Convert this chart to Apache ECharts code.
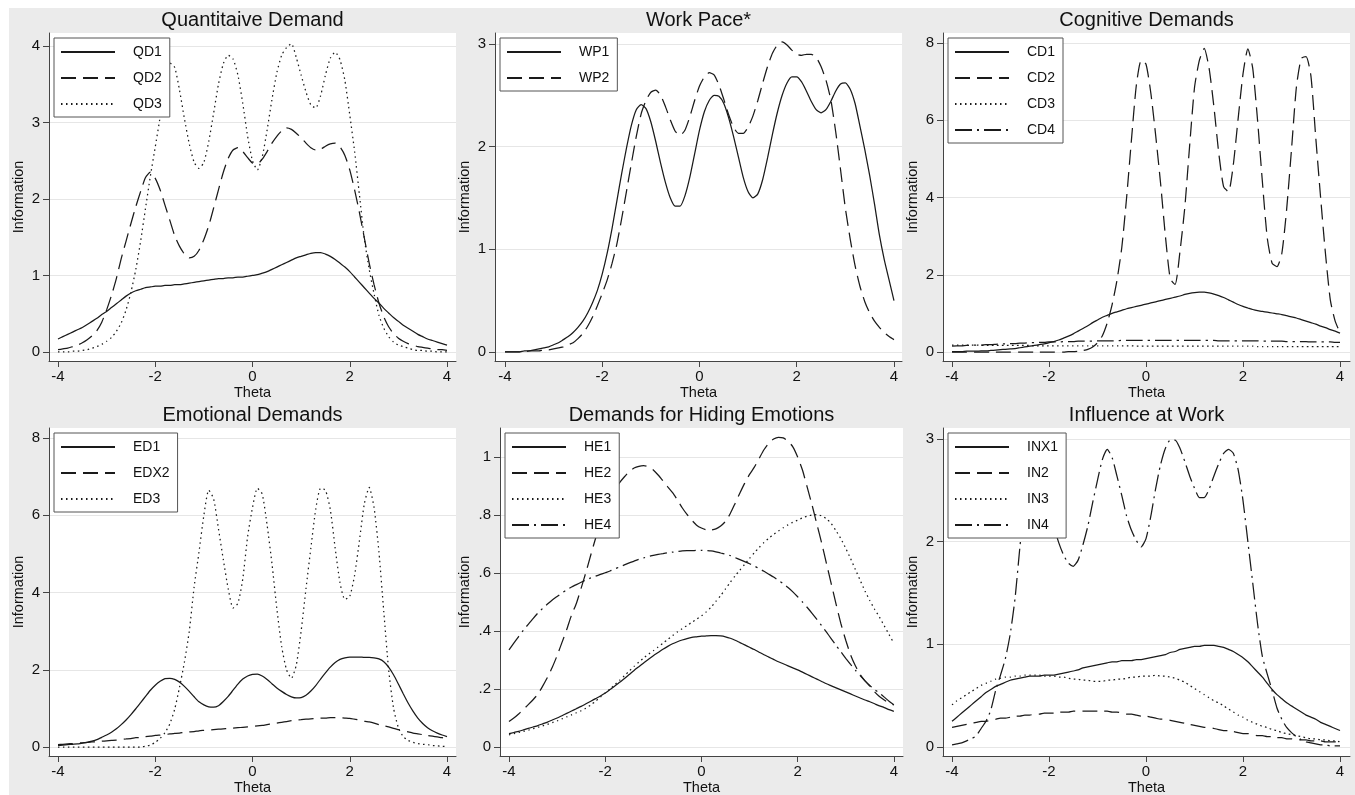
<!DOCTYPE html>
<html>
<head>
<meta charset="utf-8">
<title>Item information functions</title>
<script src="https://cdn.jsdelivr.net/npm/echarts@6/dist/echarts.min.js"></script>
<style>
  html, body { margin: 0; padding: 0; background: #fff; }
  #chart { width: 1355px; height: 795px; }
</style>
</head>
<body>
<div id="chart"></div>
<script>
// theta grid, -4 .. 4 by 0.1
const THETA = [];
for (let i = -40; i <= 40; i++) THETA.push(i / 10);

const X_TICKS = [-4, -2, 0, 2, 4];

// Quantitaive Demand
const QD1 = [
  .17, .20, .23, .26, .29, .32, .36, .40, .44, .49,
  .53, .58, .63, .68, .73, .77, .80, .82, .84, .85,
  .86, .86, .87, .87, .88, .88, .89, .90, .91, .92,
  .93, .94, .95, .96, .96, .97, .97, .98, .98, .99,
  1.00, 1.01, 1.03, 1.05, 1.08, 1.11, 1.14, 1.17, 1.20, 1.23,
  1.25, 1.27, 1.29, 1.30, 1.30, 1.28, 1.25, 1.21, 1.16, 1.11,
  1.05, .98, .91, .84, .77, .70, .64, .57, .51, .45,
  .40, .35, .31, .27, .23, .20, .17, .15, .13, .11,
  .09
];
const QD2 = [
  .03, .04, .05, .07, .09, .12, .16, .21, .28, .39,
  .55, .74, .96, 1.22, 1.45, 1.68, 1.90, 2.10, 2.28, 2.35,
  2.27, 2.12, 1.92, 1.72, 1.52, 1.38, 1.28, 1.23, 1.25, 1.33,
  1.47, 1.65, 1.88, 2.12, 2.35, 2.53, 2.64, 2.67, 2.62, 2.54,
  2.47, 2.46, 2.52, 2.62, 2.73, 2.82, 2.89, 2.93, 2.91, 2.86,
  2.80, 2.73, 2.67, 2.64, 2.65, 2.69, 2.72, 2.73, 2.68, 2.57,
  2.38, 2.12, 1.82, 1.49, 1.16, .88, .64, .46, .33, .24,
  .18, .14, .11, .09, .07, .06, .05, .04, .03, .03,
  .02
];
const QD3 = [
  .00, .00, .00, .01, .01, .02, .03, .05, .07, .10,
  .14, .19, .27, .38, .55, .78, 1.08, 1.45, 1.88, 2.30,
  2.68, 3.07, 3.50, 3.78, 3.72, 3.42, 3.05, 2.72, 2.48, 2.40,
  2.48, 2.75, 3.12, 3.50, 3.77, 3.88, 3.83, 3.62, 3.25, 2.82,
  2.50, 2.38, 2.55, 2.90, 3.30, 3.65, 3.88, 3.98, 4.03, 3.85,
  3.62, 3.40, 3.23, 3.19, 3.35, 3.62, 3.84, 3.92, 3.82, 3.55,
  3.10, 2.62, 2.05, 1.48, 1.08, .76, .48, .31, .20, .13,
  .09, .07, .05, .03, .02, .02, .01, .01, .00, .00,
  .00
];

// Work Pace*
const WP1 = [
  .00, .00, .00, .00, .01, .01, .02, .03, .04, .05,
  .07, .09, .12, .15, .19, .24, .30, .38, .48, .60,
  .76, .96, 1.20, 1.47, 1.74, 1.99, 2.21, 2.36, 2.41, 2.37,
  2.24, 2.05, 1.84, 1.65, 1.50, 1.42, 1.42, 1.52, 1.70, 1.93,
  2.16, 2.34, 2.45, 2.50, 2.49, 2.42, 2.28, 2.10, 1.90, 1.70,
  1.56, 1.50, 1.54, 1.68, 1.89, 2.12, 2.33, 2.50, 2.62, 2.68,
  2.68, 2.63, 2.54, 2.44, 2.36, 2.33, 2.36, 2.44, 2.54, 2.61,
  2.62, 2.56, 2.42, 2.20, 1.97, 1.72, 1.44, 1.14, .90, .70,
  .50
];
const WP2 = [
  .00, .00, .00, .00, .00, .01, .01, .01, .02, .02,
  .03, .04, .05, .07, .09, .13, .18, .25, .34, .45,
  .57, .70, .86, 1.05, 1.30, 1.57, 1.84, 2.10, 2.32, 2.45,
  2.53, 2.55, 2.50, 2.39, 2.26, 2.15, 2.11, 2.16, 2.29, 2.45,
  2.59, 2.68, 2.72, 2.70, 2.60, 2.46, 2.31, 2.19, 2.13, 2.13,
  2.19, 2.30, 2.45, 2.62, 2.78, 2.91, 2.99, 3.02, 2.99, 2.94,
  2.90, 2.89, 2.90, 2.90, 2.87, 2.78, 2.65, 2.46, 2.15, 1.78,
  1.40, 1.10, .84, .64, .49, .38, .30, .24, .19, .15,
  .12
];

// Cognitive Demands
const CD1 = [
  .01, .01, .01, .02, .02, .02, .03, .03, .04, .05,
  .06, .07, .08, .09, .11, .13, .15, .17, .19, .21,
  .24, .27, .31, .36, .41, .47, .54, .61, .68, .76,
  .83, .90, .95, 1.00, 1.04, 1.08, 1.12, 1.15, 1.18, 1.21,
  1.24, 1.27, 1.30, 1.33, 1.36, 1.39, 1.42, 1.45, 1.49, 1.52,
  1.54, 1.55, 1.55, 1.53, 1.50, 1.46, 1.41, 1.35, 1.29, 1.23,
  1.18, 1.14, 1.10, 1.07, 1.05, 1.03, 1.01, .99, .97, .94,
  .91, .88, .84, .80, .76, .72, .67, .63, .58, .54,
  .49
];
const CD2 = [
  .00, .00, .00, .00, .00, .00, .00, .00, .00, .00,
  .00, .00, .00, .00, .00, .00, .00, .00, .00, .00,
  .00, .00, .00, .00, .01, .01, .02, .04, .07, .13,
  .24, .42, .75, 1.22, 1.85, 2.70, 4.00, 5.50, 6.90, 7.55,
  7.45, 6.70, 5.60, 4.37, 3.00, 1.90, 1.75, 2.60, 3.75, 5.35,
  6.85, 7.55, 7.86, 7.35, 6.35, 5.15, 4.28, 4.15, 4.85, 6.05,
  7.20, 7.85, 7.35, 6.00, 4.40, 2.95, 2.30, 2.21, 2.55, 3.70,
  5.25, 6.85, 7.60, 7.65, 7.15, 5.55, 4.00, 2.55, 1.35, .80,
  .50
];
const CD3 = [
  .18, .18, .18, .18, .18, .18, .17, .17, .17, .17,
  .17, .17, .17, .17, .17, .17, .17, .16, .16, .16,
  .16, .16, .16, .16, .16, .16, .16, .16, .16, .16,
  .16, .16, .16, .16, .16, .16, .16, .16, .15, .15,
  .15, .15, .15, .15, .15, .15, .15, .15, .15, .15,
  .15, .15, .15, .15, .15, .15, .15, .15, .15, .15,
  .15, .15, .15, .14, .14, .14, .14, .14, .14, .14,
  .14, .14, .14, .14, .14, .14, .14, .14, .14, .14,
  .14
];
const CD4 = [
  .15, .16, .16, .17, .17, .18, .18, .19, .19, .20,
  .21, .21, .22, .22, .23, .23, .24, .24, .25, .25,
  .26, .26, .26, .27, .27, .27, .28, .28, .28, .28,
  .29, .29, .29, .29, .29, .30, .30, .30, .30, .30,
  .30, .30, .30, .30, .30, .30, .30, .30, .30, .30,
  .30, .30, .30, .30, .30, .29, .29, .29, .29, .29,
  .29, .29, .29, .29, .28, .28, .28, .28, .28, .27,
  .27, .27, .27, .27, .26, .26, .26, .26, .26, .25,
  .25
];

// Emotional Demands
const ED1 = [
  .04, .05, .06, .07, .08, .10, .12, .15, .19, .25,
  .31, .38, .47, .58, .70, .84, .99, 1.15, 1.31, 1.47,
  1.60, 1.70, 1.77, 1.78, 1.75, 1.68, 1.57, 1.44, 1.30, 1.17,
  1.09, 1.04, 1.03, 1.07, 1.18, 1.31, 1.47, 1.63, 1.76, 1.84,
  1.88, 1.89, 1.84, 1.75, 1.64, 1.53, 1.44, 1.36, 1.30, 1.27,
  1.28, 1.34, 1.45, 1.59, 1.76, 1.92, 2.07, 2.19, 2.27, 2.31,
  2.33, 2.33, 2.33, 2.32, 2.32, 2.31, 2.28, 2.21, 2.07, 1.87,
  1.63, 1.38, 1.14, .93, .75, .61, .50, .42, .36, .31,
  .27
];
const EDX2 = [
  .06, .07, .08, .09, .10, .11, .12, .13, .14, .15,
  .16, .17, .18, .20, .21, .22, .24, .25, .27, .28,
  .30, .31, .32, .34, .35, .36, .38, .39, .40, .42,
  .43, .44, .45, .46, .47, .48, .49, .50, .51, .52,
  .53, .55, .56, .58, .60, .62, .64, .66, .68, .70,
  .71, .72, .73, .74, .75, .75, .76, .76, .76, .75,
  .74, .72, .70, .67, .65, .62, .58, .55, .52, .48,
  .45, .42, .39, .36, .34, .32, .30, .28, .26, .24,
  .23
];
const ED3 = [
  .00, .00, .00, .00, .00, .00, .00, .00, .00, .00,
  .00, .00, .00, .00, .00, .00, .00, .00, .02, .05,
  .12, .22, .37, .60, .98, 1.55, 2.20, 3.00, 4.15, 5.05,
  6.00, 6.65, 6.43, 5.65, 4.85, 4.10, 3.60, 3.72, 4.35, 5.45,
  6.20, 6.70, 6.55, 5.75, 4.75, 3.59, 2.60, 2.00, 1.78, 2.12,
  3.00, 4.10, 5.15, 6.15, 6.70, 6.65, 6.15, 5.15, 4.25, 3.82,
  3.90, 4.45, 5.35, 6.30, 6.72, 6.20, 5.05, 3.50, 2.00, 1.01,
  .50, .27, .17, .12, .09, .07, .06, .04, .03, .02,
  .01
];

// Demands for Hiding Emotions
const HE1 = [
  .046, .050, .054, .059, .064, .069, .074, .080, .086, .093,
  .100, .108, .116, .124, .132, .140, .149, .158, .167, .176,
  .186, .198, .210, .223, .236, .250, .264, .277, .290, .303,
  .315, .326, .337, .347, .356, .363, .369, .374, .378, .380,
  .382, .383, .384, .384, .383, .380, .375, .368, .360, .352,
  .344, .336, .327, .318, .310, .302, .294, .287, .280, .273,
  .266, .258, .250, .242, .234, .226, .218, .211, .204, .197,
  .190, .183, .176, .169, .162, .156, .149, .142, .136, .129,
  .123
];
const HE2 = [
  .088, .100, .114, .130, .146, .163, .182, .210, .240, .275,
  .315, .360, .405, .455, .495, .548, .603, .662, .720, .775,
  .822, .858, .888, .912, .932, .950, .962, .968, .970, .966,
  .955, .938, .918, .897, .877, .852, .825, .802, .782, .765,
  .755, .749, .748, .752, .762, .778, .805, .840, .876, .910,
  .940, .965, .995, 1.025, 1.048, 1.062, 1.068, 1.066, 1.055, 1.035,
  1.000, .955, .895, .834, .768, .703, .632, .562, .492, .425,
  .368, .318, .280, .250, .228, .210, .190, .174, .162, .152,
  .145
];
const HE3 = [
  .042, .046, .050, .054, .058, .063, .068, .073, .078, .084,
  .090, .097, .104, .111, .118, .125, .134, .145, .158, .172,
  .186, .200, .215, .230, .246, .262, .278, .293, .307, .320,
  .332, .345, .358, .371, .384, .397, .408, .419, .430, .441,
  .452, .466, .482, .502, .522, .545, .568, .590, .610, .630,
  .650, .670, .688, .705, .720, .733, .745, .756, .766, .775,
  .782, .790, .796, .800, .801, .797, .787, .770, .745, .718,
  .685, .650, .612, .575, .538, .505, .475, .448, .418, .388,
  .358
];
const HE4 = [
  .335, .358, .381, .403, .423, .443, .462, .478, .493, .507,
  .519, .531, .542, .552, .560, .568, .576, .583, .589, .595,
  .601, .607, .614, .621, .628, .635, .641, .647, .652, .657,
  .661, .664, .667, .670, .672, .674, .676, .677, .677, .678,
  .678, .677, .676, .673, .669, .665, .660, .653, .646, .639,
  .632, .624, .615, .606, .596, .586, .575, .563, .550, .535,
  .518, .500, .481, .461, .440, .418, .396, .373, .350, .328,
  .306, .285, .265, .246, .228, .212, .198, .186, .172, .158,
  .146
];

// Influence at Work
const INX1 = [
  .25, .29, .33, .37, .41, .45, .49, .53, .56, .59,
  .61, .63, .65, .66, .67, .68, .69, .69, .69, .70,
  .70, .70, .71, .72, .73, .74, .75, .77, .78, .79,
  .80, .81, .82, .83, .83, .84, .84, .84, .85, .85,
  .86, .87, .88, .89, .90, .92, .93, .95, .96, .97,
  .98, .98, .99, .99, .99, .98, .97, .95, .93, .90,
  .87, .83, .78, .73, .68, .62, .56, .51, .47, .43,
  .40, .37, .34, .31, .29, .27, .24, .22, .20, .18,
  .16
];
const IN2 = [
  .19, .20, .21, .22, .23, .24, .25, .25, .26, .27,
  .28, .28, .29, .30, .30, .31, .31, .32, .32, .33,
  .33, .33, .34, .34, .34, .35, .35, .35, .35, .35,
  .35, .35, .35, .34, .34, .33, .32, .32, .31, .30,
  .30, .29, .28, .27, .27, .26, .25, .24, .23, .22,
  .21, .20, .19, .19, .18, .17, .16, .16, .15, .14,
  .13, .13, .12, .11, .11, .10, .10, .09, .09, .08,
  .08, .07, .07, .07, .06, .06, .06, .05, .05, .05,
  .04
];
const IN3 = [
  .41, .45, .48, .51, .54, .57, .60, .62, .64, .66,
  .67, .68, .68, .69, .69, .70, .70, .70, .70, .69,
  .69, .69, .68, .68, .67, .66, .66, .65, .65, .64,
  .64, .64, .65, .65, .66, .66, .67, .68, .68, .69,
  .69, .69, .70, .69, .69, .68, .67, .65, .63, .60,
  .57, .54, .51, .48, .45, .43, .40, .37, .34, .31,
  .29, .26, .24, .22, .20, .19, .17, .16, .14, .13,
  .12, .11, .10, .09, .08, .08, .07, .07, .06, .06,
  .05
];
const IN4 = [
  .02, .03, .04, .06, .08, .11, .18, .25, .36, .55,
  .70, .86, 1.10, 1.45, 1.95, 2.40, 2.70, 2.85, 2.85, 2.65,
  2.35, 2.15, 1.99, 1.87, 1.79, 1.76, 1.82, 1.97, 2.15, 2.38,
  2.60, 2.80, 2.90, 2.82, 2.64, 2.45, 2.25, 2.11, 2.01, 1.95,
  2.03, 2.25, 2.52, 2.75, 2.91, 2.99, 2.99, 2.91, 2.78, 2.64,
  2.52, 2.43, 2.43, 2.51, 2.64, 2.76, 2.86, 2.90, 2.86, 2.70,
  2.40, 2.00, 1.60, 1.20, .88, .71, .55, .38, .27, .19,
  .14, .10, .07, .05, .04, .03, .02, .02, .01, .01,
  .01
];

const TITLES = ['Quantitaive Demand', 'Work Pace*', 'Cognitive Demands',
  'Emotional Demands', 'Demands for Hiding Emotions', 'Influence at Work'];
const NAMES = [
  ['QD1', 'QD2', 'QD3'],
  ['WP1', 'WP2'],
  ['CD1', 'CD2', 'CD3', 'CD4'],
  ['ED1', 'EDX2', 'ED3'],
  ['HE1', 'HE2', 'HE3', 'HE4'],
  ['INX1', 'IN2', 'IN3', 'IN4']
];
const VALUES = [
  [QD1, QD2, QD3],
  [WP1, WP2],
  [CD1, CD2, CD3, CD4],
  [ED1, EDX2, ED3],
  [HE1, HE2, HE3, HE4],
  [INX1, IN2, IN3, IN4]
];
const Y_TICKS = [
  [0, 1, 2, 3, 4],
  [0, 1, 2, 3],
  [0, 2, 4, 6, 8],
  [0, 2, 4, 6, 8],
  [0, 0.2, 0.4, 0.6, 0.8, 1],
  [0, 1, 2, 3]
];

// plot regions (pixels) and axis ranges matching them
const LAYOUT = [
  { left: 49, top: 33, width: 407, xr: [-4.185, 4.185], yr: [-0.118, 4.17], gap: 23 },
  { left: 495, top: 33, width: 407, xr: [-4.206, 4.165], yr: [-0.088, 3.107], gap: 23 },
  { left: 943, top: 33, width: 407, xr: [-4.186, 4.206], yr: [-0.233, 8.26], gap: 23 },
  { left: 49, top: 428, width: 407, xr: [-4.185, 4.185], yr: [-0.233, 8.26], gap: 23 },
  { left: 500, top: 428, width: 403, xr: [-4.187, 4.19], yr: [-0.031, 1.10], gap: 28 },
  { left: 943, top: 428, width: 407, xr: [-4.186, 4.206], yr: [-0.088, 3.107], gap: 23 }
];
const PLOT_H = 328;

const FONT = 'Liberation Sans, Arial, Helvetica, sans-serif';
const INK = '#1a1a1a';
const AXIS = '#444';
const LINE_TYPES = ['solid', [15, 7], [1.5, 3.5], [17, 5, 2, 5]];

function tickLabel(v) {
  if (v === 0 || v === Math.round(v)) return String(v);
  return String(v).replace(/^0/, '');
}

const option = {
  animation: false,
  backgroundColor: '#ebebeb',
  graphic: [
    { type: 'rect', silent: true, shape: { x: 0, y: 0, width: 9, height: 795 }, style: { fill: '#fff' } },
    { type: 'rect', silent: true, shape: { x: 0, y: 0, width: 1355, height: 8 }, style: { fill: '#fff' } }
  ],
  title: [],
  grid: [],
  xAxis: [],
  yAxis: [],
  legend: [],
  series: []
};

LAYOUT.forEach(function (lay, k) {
  option.title.push({
    text: TITLES[k],
    left: lay.left + lay.width / 2,
    top: lay.top - 23,
    textAlign: 'center',
    padding: 0,
    textStyle: { fontFamily: FONT, fontSize: 20, fontWeight: 'normal', color: '#111' }
  });

  option.grid.push({
    left: lay.left, top: lay.top, width: lay.width, height: PLOT_H,
    show: true, backgroundColor: '#fff', borderWidth: 0,
    containLabel: false, outerBoundsMode: 'none'
  });

  option.xAxis.push({
    gridIndex: k,
    type: 'value',
    min: lay.xr[0],
    max: lay.xr[1],
    name: 'Theta',
    nameLocation: 'middle',
    nameGap: 24,
    nameTextStyle: { fontFamily: FONT, fontSize: 14.5, color: '#111' },
    axisLine: { show: true, onZero: false, lineStyle: { color: AXIS, width: 1 } },
    axisTick: { show: true, inside: false, length: 6, customValues: X_TICKS, lineStyle: { color: AXIS } },
    axisLabel: { customValues: X_TICKS, margin: 8, fontFamily: FONT, fontSize: 15, color: '#111' },
    splitLine: { show: false }
  });

  option.yAxis.push({
    gridIndex: k,
    type: 'value',
    min: lay.yr[0],
    max: lay.yr[1],
    name: 'Information',
    nameLocation: 'middle',
    nameRotate: 90,
    nameGap: lay.gap,
    nameTextStyle: { fontFamily: FONT, fontSize: 14.5, color: '#111' },
    axisLine: { show: true, onZero: false, lineStyle: { color: AXIS, width: 1 } },
    axisTick: { show: true, inside: false, length: 6, customValues: Y_TICKS[k], lineStyle: { color: AXIS } },
    axisLabel: { customValues: Y_TICKS[k], margin: 9, fontFamily: FONT, fontSize: 15, color: '#111', formatter: tickLabel },
    splitLine: { show: true, lineStyle: { color: '#e6e6e6', width: 1 } }
  });

  option.legend.push({
    data: NAMES[k],
    orient: 'vertical',
    left: lay.left + 5,
    top: lay.top + 5,
    backgroundColor: '#fff',
    borderColor: '#555',
    borderWidth: 1,
    borderRadius: 0,
    padding: [7, 8, 6, 6],
    itemWidth: 54,
    itemHeight: 14,
    itemGap: 12,
    selectedMode: false,
    itemStyle: { opacity: 0, borderWidth: 0 },
    textStyle: { fontFamily: FONT, fontSize: 14, color: '#111', lineHeight: 14, padding: [0, 0, 0, 13] },
    z: 5
  });

  NAMES[k].forEach(function (name, j) {
    const vals = VALUES[k][j];
    option.series.push({
      type: 'line',
      name: name,
      xAxisIndex: k,
      yAxisIndex: k,
      data: THETA.map(function (t, i) { return [t, vals[i]]; }),
      showSymbol: false,
      symbol: 'none',
      smooth: 0.2,
      silent: true,
      lineStyle: { color: INK, width: 1.25, type: LINE_TYPES[j] },
      itemStyle: { color: INK },
      z: 2
    });
  });
});

const chart = echarts.init(document.getElementById('chart'), null, { renderer: 'canvas' });
chart.setOption(option);
</script>
</body>
</html>
